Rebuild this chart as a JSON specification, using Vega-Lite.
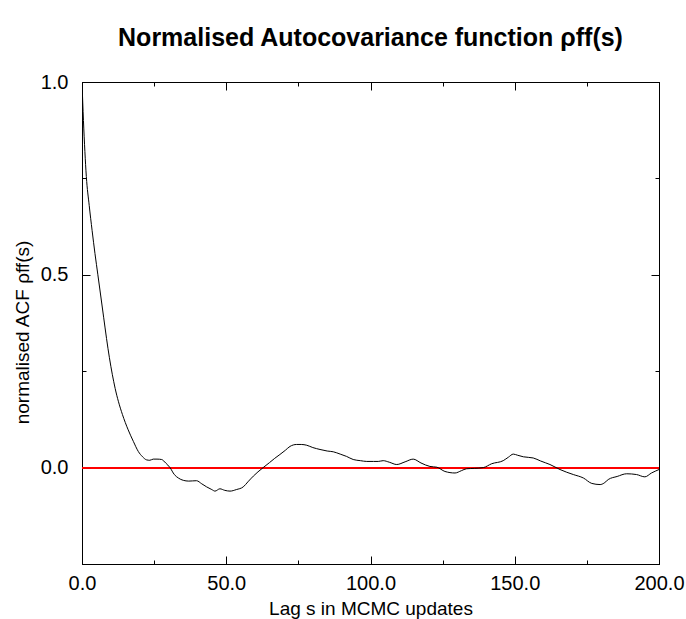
{
  "$schema": "https://vega.github.io/schema/vega-lite/v6.json",
  "width": 577,
  "height": 482,
  "autosize": {"type": "none"},
  "padding": {"left": 82, "top": 82, "right": 27, "bottom": 55},
  "background": "white",
  "config": {
    "view": {"stroke": "black", "strokeWidth": 1},
    "font": "Liberation Sans",
    "axis": {"grid": false, "domainColor": "black", "tickColor": "black", "labelColor": "black", "titleColor": "black", "labelFont": "Liberation Sans", "titleFont": "Liberation Sans", "titleFontWeight": "normal"}
  },
  "title": {
    "text": "Normalised Autocovariance function ρff(s)",
    "font": "Liberation Sans",
    "fontSize": 25,
    "fontWeight": "bold",
    "color": "black",
    "anchor": "middle",
    "offset": 21
  },
  "data": {
    "values": [
      {"s": 0, "v": 1.0}, {"s": 0.5, "v": 0.9}, {"s": 1, "v": 0.82}, {"s": 1.5, "v": 0.755},
      {"s": 2.5, "v": 0.68}, {"s": 3.5, "v": 0.615}, {"s": 4.5, "v": 0.555}, {"s": 5.5, "v": 0.5},
      {"s": 6.5, "v": 0.445}, {"s": 7.5, "v": 0.39}, {"s": 8.5, "v": 0.335}, {"s": 9.5, "v": 0.285},
      {"s": 10.5, "v": 0.242}, {"s": 11.5, "v": 0.205}, {"s": 12.6, "v": 0.172}, {"s": 14, "v": 0.138},
      {"s": 16, "v": 0.098},
      {"s": 17.8, "v": 0.068}, {"s": 19.5, "v": 0.042}, {"s": 21, "v": 0.028}, {"s": 22.4, "v": 0.02},
      {"s": 23.5, "v": 0.019}, {"s": 24.7, "v": 0.022}, {"s": 26, "v": 0.022}, {"s": 27.6, "v": 0.021},
      {"s": 29, "v": 0.012}, {"s": 30.5, "v": 0.0}, {"s": 32, "v": -0.018}, {"s": 33.4, "v": -0.027},
      {"s": 35.1, "v": -0.033}, {"s": 37, "v": -0.035}, {"s": 39.7, "v": -0.034}, {"s": 41.5, "v": -0.042},
      {"s": 43.2, "v": -0.05}, {"s": 45, "v": -0.057}, {"s": 46.1, "v": -0.061}, {"s": 47.8, "v": -0.055},
      {"s": 49.5, "v": -0.059}, {"s": 51.3, "v": -0.061}, {"s": 53.5, "v": -0.057}, {"s": 55.9, "v": -0.05},
      {"s": 57.5, "v": -0.037}, {"s": 59.4, "v": -0.022}, {"s": 61, "v": -0.011}, {"s": 62.8, "v": 0.0},
      {"s": 65, "v": 0.013}, {"s": 66.8, "v": 0.024}, {"s": 68.6, "v": 0.034}, {"s": 70.5, "v": 0.045},
      {"s": 72.1, "v": 0.055}, {"s": 74.4, "v": 0.06}, {"s": 76, "v": 0.06}, {"s": 77.9, "v": 0.058},
      {"s": 80, "v": 0.052}, {"s": 82.5, "v": 0.047}, {"s": 85, "v": 0.043}, {"s": 87.1, "v": 0.041},
      {"s": 89.5, "v": 0.035}, {"s": 91.7, "v": 0.029}, {"s": 94, "v": 0.021}, {"s": 96.5, "v": 0.018},
      {"s": 98.7, "v": 0.016}, {"s": 101, "v": 0.016}, {"s": 102.7, "v": 0.016}, {"s": 104.4, "v": 0.018},
      {"s": 106.5, "v": 0.014}, {"s": 109.1, "v": 0.008}, {"s": 112, "v": 0.015}, {"s": 114.8, "v": 0.022},
      {"s": 117.5, "v": 0.012}, {"s": 120.6, "v": 0.003}, {"s": 123, "v": 0.001}, {"s": 125.8, "v": -0.01},
      {"s": 129.3, "v": -0.014}, {"s": 131.5, "v": -0.008}, {"s": 133.3, "v": -0.003}, {"s": 136, "v": -0.002},
      {"s": 139.1, "v": 0.0}, {"s": 142, "v": 0.01}, {"s": 146, "v": 0.018}, {"s": 147.8, "v": 0.027},
      {"s": 149.5, "v": 0.035}, {"s": 151, "v": 0.032}, {"s": 153, "v": 0.028}, {"s": 156.4, "v": 0.025},
      {"s": 159, "v": 0.017}, {"s": 162.2, "v": 0.008}, {"s": 165.7, "v": -0.005}, {"s": 168, "v": -0.012},
      {"s": 170.3, "v": -0.018}, {"s": 173.8, "v": -0.027}, {"s": 176.7, "v": -0.041}, {"s": 179.6, "v": -0.044},
      {"s": 181, "v": -0.04}, {"s": 182.4, "v": -0.031}, {"s": 185.5, "v": -0.023}, {"s": 188.8, "v": -0.016},
      {"s": 192.2, "v": -0.018}, {"s": 195.1, "v": -0.024}, {"s": 197.4, "v": -0.014}, {"s": 200, "v": -0.005}
    ]
  },
  "resolve": {"axis": {"x": "independent", "y": "independent"}},
  "layer": [
    {
      "mark": {"type": "rule", "color": "red", "strokeWidth": 1},
      "encoding": {
        "y": {"datum": 0, "type": "quantitative", "scale": {"domain": [-0.25, 1.0], "nice": false, "zero": false}, "axis": null}
      }
    },
    {
      "mark": {"type": "line", "color": "black", "strokeWidth": 1, "clip": true, "interpolate": "monotone"},
      "encoding": {
        "x": {"field": "s", "type": "quantitative", "scale": {"domain": [0, 200], "nice": false},
          "axis": {"orient": "bottom", "title": "Lag s in MCMC updates", "values": [0, 25, 50, 75, 100, 125, 150, 175, 200],
            "labelExpr": "datum.value % 50 === 0 ? format(datum.value, '.1f') : ''",
            "tickSize": {"condition": {"test": "datum.value % 50 === 0", "value": -8}, "value": -4},
            "labelPadding": 17, "labelFontSize": 20, "titleFontSize": 19, "titlePadding": 2, "labelFlush": false, "labelOverlap": false, "domain": true}},
        "y": {"field": "v", "type": "quantitative", "scale": {"domain": [-0.25, 1.0], "nice": false, "zero": false},
          "axis": {"orient": "left", "title": "normalised ACF ρff(s)", "values": [-0.25, 0, 0.25, 0.5, 0.75, 1.0],
            "labelExpr": "(datum.value === 0 || datum.value === 0.5 || datum.value === 1) ? format(datum.value, '.1f') : ''",
            "tickSize": {"condition": {"test": "datum.value === 0 || datum.value === 0.5 || datum.value === 1", "value": -8}, "value": -4},
            "labelPadding": 22, "labelFontSize": 20, "titleFontSize": 19, "titlePadding": 8, "titleY": 250, "labelFlush": false, "labelOverlap": false, "domain": true}}
      }
    },
    {
      "mark": {"type": "line", "strokeOpacity": 0},
      "encoding": {
        "x": {"field": "s", "type": "quantitative", "scale": {"domain": [0, 200], "nice": false},
          "axis": {"orient": "top", "title": null, "labels": false, "values": [0, 25, 50, 75, 100, 125, 150, 175, 200],
            "tickSize": {"condition": {"test": "datum.value % 50 === 0", "value": -8}, "value": -4}}},
        "y": {"field": "v", "type": "quantitative", "scale": {"domain": [-0.25, 1.0], "nice": false, "zero": false},
          "axis": {"orient": "right", "title": null, "labels": false, "values": [-0.25, 0, 0.25, 0.5, 0.75, 1.0],
            "tickSize": {"condition": {"test": "datum.value === 0 || datum.value === 0.5 || datum.value === 1", "value": -8}, "value": -4}}}
      }
    }
  ]
}
